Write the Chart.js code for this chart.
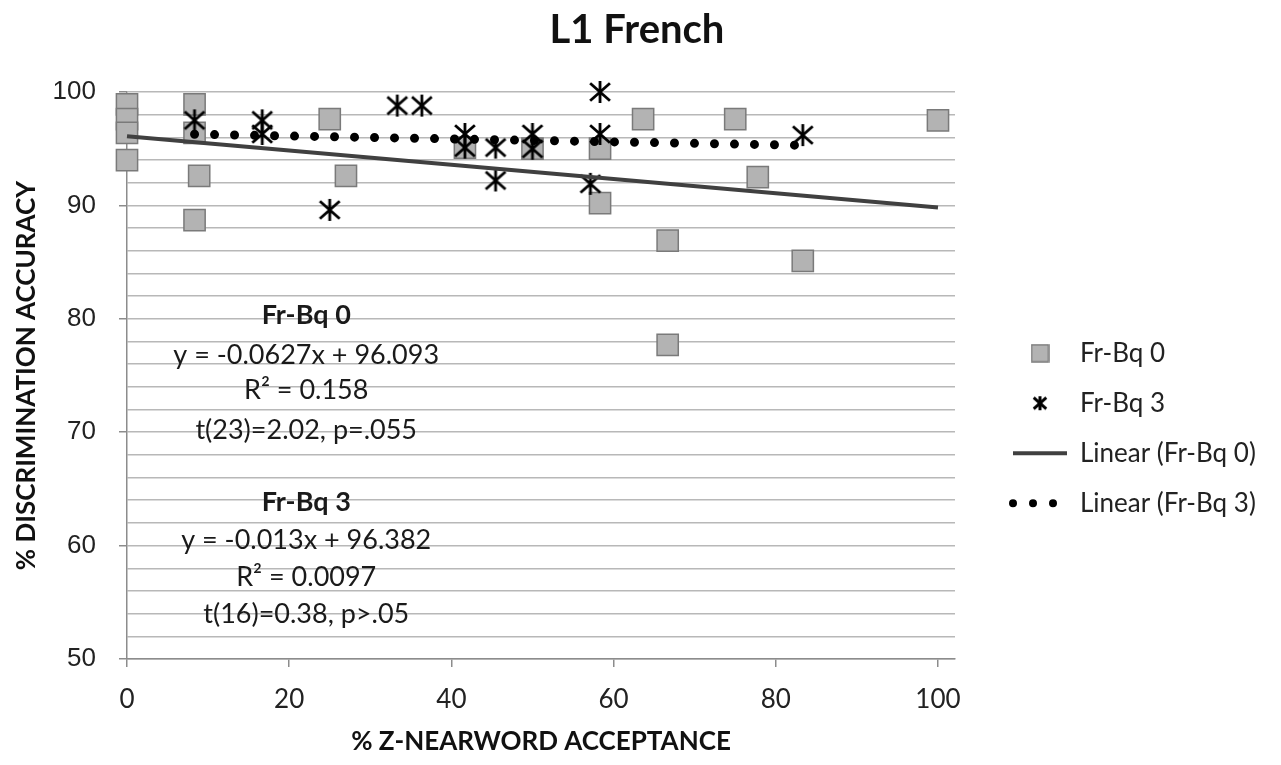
<!DOCTYPE html>
<html>
<head>
<meta charset="utf-8">
<title>L1 French</title>
<script src="https://cdn.jsdelivr.net/npm/chart.js@4.4.1/dist/chart.umd.min.js"></script>
<style>
  html, body { margin: 0; padding: 0; background: #fff; }
  #chart { display: block; }
</style>
</head>
<body>
<canvas id="chart" width="1281" height="765"></canvas>
<script>
// Fr-Bq 0 (grey squares)
const frBq0X = [0, 0, 0, 0, 8.33, 8.33, 8.9, 8.33, 25, 27, 41.67, 50, 58.33, 58.33, 63.64, 66.67, 75, 77.78, 83.33, 66.67, 100];
const frBq0Y = [98.9, 97.6, 96.4, 94.0, 98.9, 96.4, 92.6, 88.7, 97.6, 92.6, 95.1, 95.0, 95.0, 90.2, 97.6, 86.9, 97.6, 92.5, 85.1, 77.7, 97.5];

// Fr-Bq 3 (asterisks)
const frBq3X = [8.33, 16.67, 16.67, 25, 33.33, 36.36, 41.67, 41.67, 45.45, 45.45, 50, 50, 58.33, 58.33, 57.14, 83.33];
const frBq3Y = [97.5, 97.5, 96.3, 89.6, 98.8, 98.8, 96.3, 95.1, 95.1, 92.2, 96.3, 95.0, 100, 96.3, 91.9, 96.2];

// linear trend lines as printed on the chart
const trendSlope = [-0.0627, -0.013];
const trendIntercept = [96.093, 96.382];
const trendFrom = [0, 8.33];
const trendTo = [100, 83.33];

const xTicks = [0, 20, 40, 60, 80, 100];
const yTicks = [50, 60, 70, 80, 90, 100];

const notes0 = ['Fr-Bq 0', 'y = -0.0627x + 96.093', 'R\u00b2 = 0.158', 't(23)=2.02, p=.055'];
const notes3 = ['Fr-Bq 3', 'y = -0.013x + 96.382', 'R\u00b2 = 0.0097', 't(16)=0.38, p>.05'];

// where the note blocks sit, in axis units
const noteX = 22.1;
const noteY = [[80.3, 76.8, 73.7, 70.2], [63.85, 60.5, 57.2, 53.9]];

function toPoints(xs, ys) {
    return xs.map((x, i) => ({ x: x, y: ys[i] }));
}

function trendPoints(k) {
    return [trendFrom[k], trendTo[k]].map(x => ({ x: x, y: trendSlope[k] * x + trendIntercept[k] }));
}

function makeStar(size, lw) {
    const c = document.createElement('canvas');
    c.width = size; c.height = size;
    const g = c.getContext('2d');
    const m = size / 2, r = size / 2 - 1;
    g.strokeStyle = '#000';
    g.lineWidth = lw;
    g.beginPath();
    g.moveTo(m, m - r); g.lineTo(m, m + r);
    g.moveTo(m - r * 0.9, m - r * 0.8); g.lineTo(m + r * 0.9, m + r * 0.8);
    g.moveTo(m + r * 0.9, m - r * 0.8); g.lineTo(m - r * 0.9, m + r * 0.8);
    g.stroke();
    return c;
}

function makeSquare(size) {
    const c = document.createElement('canvas');
    c.width = size; c.height = size;
    const g = c.getContext('2d');
    g.fillStyle = '#b3b3b3';
    g.strokeStyle = '#7a7a7a';
    g.lineWidth = 1.5;
    g.fillRect(1, 1, size - 2, size - 2);
    g.strokeRect(1, 1, size - 2, size - 2);
    return c;
}

const starMark = makeStar(24, 2.8);
const legendStyles = [makeSquare(19), makeStar(16, 3), 'line', 'line'];

const legendFont = { family: 'Lato', size: 26 };
const legendPad = 24;
const legendBox = 54;
const legendShift = 34;

// keep the plot's right edge where the reference has it
const mctx = document.createElement('canvas').getContext('2d');
mctx.font = legendFont.size + 'px ' + legendFont.family;
const legendText = ['Fr-Bq 0', 'Fr-Bq 3', 'Linear (Fr-Bq 0)', 'Linear (Fr-Bq 3)'];
const maxText = Math.max(...legendText.map(t => mctx.measureText(t).width));
const legendWidth = legendPad + legendBox + legendFont.size / 2 + maxText;
const rightPad = Math.max(0, 1281 - 965 - legendWidth);

const notesPlugin = {
    id: 'notes',
    afterDatasetsDraw(chart) {
        const { ctx, scales: { x, y } } = chart;
        ctx.save();
        ctx.textAlign = 'center';
        ctx.textBaseline = 'middle';
        ctx.fillStyle = '#1a1a1a';
        [notes0, notes3].forEach((lines, k) => {
            lines.forEach((t, i) => {
                ctx.font = (i === 0 ? 'bold ' : '') + '27px Lato';
                ctx.fillText(t, x.getPixelForValue(noteX), y.getPixelForValue(noteY[k][i]));
            });
        });
        ctx.restore();
    }
};

// nudge legend right of the plot and centre the title on the whole picture
const placePlugin = {
    id: 'place',
    afterLayout(chart) {
        chart.legend.left += legendShift;
        chart.legend.right += legendShift;
        chart.titleBlock.left = 0;
        chart.titleBlock.right = 1274;
    }
};

const axisGrey = '#8c8c8c';

new Chart(document.getElementById('chart'), {
    type: 'scatter',
    data: {
        datasets: [{
            label: 'Fr-Bq 0',
            data: toPoints(frBq0X, frBq0Y),
            pointStyle: 'rect',
            pointRadius: 15,
            backgroundColor: '#b3b3b3',
            borderColor: '#7a7a7a',
            borderWidth: 1.5,
            clip: false,
            order: 3
        }, {
            label: 'Fr-Bq 3',
            data: toPoints(frBq3X, frBq3Y),
            pointStyle: starMark,
            pointRadius: 12,
            backgroundColor: '#000',
            borderColor: '#000',
            clip: false,
            order: 2
        }, {
            label: 'Linear (Fr-Bq 0)',
            data: trendPoints(0),
            showLine: true,
            pointRadius: 0,
            borderColor: '#404040',
            backgroundColor: '#404040',
            borderWidth: 4,
            clip: false,
            order: 1
        }, {
            label: 'Linear (Fr-Bq 3)',
            data: trendPoints(1),
            showLine: true,
            pointRadius: 0,
            borderColor: '#000',
            backgroundColor: '#000',
            borderWidth: 9,
            borderDash: [0, 20],
            borderCapStyle: 'round',
            clip: false,
            order: 0
        }]
    },
    options: {
        responsive: false,
        animation: false,
        layout: { padding: { left: 0, right: rightPad, top: 0, bottom: 0 } },
        plugins: {
            title: {
                display: true,
                text: 'L1 French',
                color: '#111',
                font: { family: 'Lato', size: 40, weight: 'bold' },
                padding: { top: 6, bottom: 38 }
            },
            legend: {
                position: 'right',
                align: 'center',
                fullSize: false,
                title: { display: true, text: '', padding: { top: 91, bottom: 0 } },
                labels: {
                    usePointStyle: true,
                    pointStyleWidth: legendBox,
                    padding: legendPad,
                    color: '#222',
                    font: legendFont,
                    sort: (a, b) => a.datasetIndex - b.datasetIndex,
                    generateLabels(chart) {
                        const items = Chart.defaults.plugins.legend.labels.generateLabels(chart);
                        items.forEach(it => {
                            it.pointStyle = legendStyles[it.datasetIndex];
                            if (it.datasetIndex === 2) {
                                it.lineWidth = 4;
                                it.strokeStyle = '#404040';
                                it.lineDash = [];
                            }
                            if (it.datasetIndex === 3) {
                                it.lineWidth = 8;
                                it.strokeStyle = '#000';
                                it.lineDash = [0, 20];
                                it.lineCap = 'round';
                            }
                        });
                        return items;
                    }
                }
            },
            tooltip: { enabled: false }
        },
        scales: {
            x: {
                type: 'linear',
                min: 0,
                max: 102.1,
                afterBuildTicks: s => { s.ticks = xTicks.map(v => ({ value: v })); },
                afterFit: s => { s.height = 106; },
                grid: { drawOnChartArea: false, tickLength: 8, color: axisGrey, lineWidth: 1.5 },
                border: { color: axisGrey, width: 1.5 },
                ticks: { padding: 17, color: '#222', font: { family: 'Lato', size: 26 } },
                title: {
                    display: true,
                    text: '% Z-NEARWORD ACCEPTANCE',
                    color: '#111',
                    font: { family: 'Lato', size: 26, weight: 'bold' },
                    padding: { top: 4, bottom: 8 }
                }
            },
            y: {
                min: 50,
                max: 100,
                afterFit: s => { s.width = 127; },
                grid: {
                    color: '#b8b8b8',
                    lineWidth: 1.5,
                    tickLength: 8,
                    tickColor: c => (yTicks.includes(c.tick.value) ? axisGrey : 'rgba(0,0,0,0)')
                },
                border: { color: axisGrey, width: 1.5 },
                ticks: {
                    stepSize: 2,
                    autoSkip: false,
                    padding: 23,
                    color: '#222',
                    font: { family: 'Liberation Sans', size: 26 },
                    callback: v => (yTicks.includes(v) ? v : '')
                },
                title: {
                    display: true,
                    text: '% DISCRIMINATION ACCURACY',
                    color: '#111',
                    font: { family: 'Lato', size: 26, weight: 'bold' },
                    padding: { top: 11, bottom: 4 }
                }
            }
        }
    },
    plugins: [notesPlugin, placePlugin]
});
</script>
</body>
</html>
